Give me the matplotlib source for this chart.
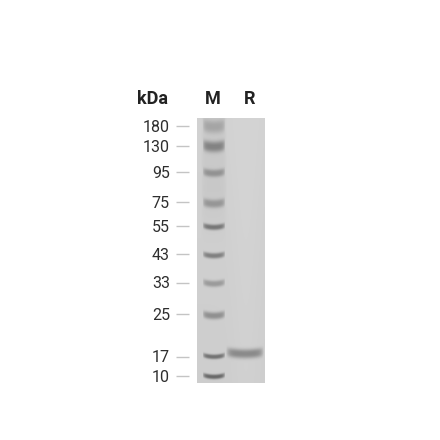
import numpy as np
import matplotlib
matplotlib.use("Agg")
import matplotlib.pyplot as plt

plt.rcParams['font.family'] = ['Roboto', 'DejaVu Sans']

# marker ladder, y read in pixels from the picture
kda_labels = ['180', '130', '95', '75', '55', '43', '33', '25', '17', '10']
label_y = [126, 146.5, 172.5, 202.5, 226, 254, 283, 314, 357, 376]
band_y = [126, 146, 172.5, 203, 226.5, 255, 283, 315, 356, 376]
band_dark = [36, 70, 54, 52, 85, 78, 52, 62, 90, 100]
band_thick = [6.5, 5.5, 3.8, 4.2, 2.8, 2.8, 3.2, 3.6, 2.4, 2.4]

# sample lane: single band
sample_y = [353]
sample_dark = [70]
sample_thick = [4.6]

lane_labels = ['M', 'R']
lane_x = [213, 250]

gel_left, gel_right = 197, 265
gel_top, gel_bottom = 118, 383


def band(xx, yy, xc, half_w, yc, dark, thick):
    # soft edged lane with a slight smile
    u = (xx - xc) / half_w
    across = np.clip((1 - u**6), 0, 1)
    centre = yc + 2.0 * (1 - u**2) - 1.2
    return dark * across * np.exp(-np.abs((yy - centre) / thick)**2.6)


xs = np.arange(gel_left, gel_right) + 0.5
ys = np.arange(gel_top, gel_bottom) + 0.5
xx, yy = np.meshgrid(xs, ys)

gel = np.full(xx.shape, 209.0)
gel -= 4 * (yy - gel_top) / (gel_bottom - gel_top)
gel += 3 * np.exp(-((xx - 246) / 14)**2)

# marker lane smear near the top
gel -= 8 * np.clip(1 - ((xx - 214) / 13)**6, 0, 1) * np.clip((250 - yy) / 60, 0, 1)
for y, d, t in zip(band_y, band_dark, band_thick):
    gel -= band(xx, yy, 214, 11.5, y, d, t)
for y, d, t in zip(sample_y, sample_dark, sample_thick):
    gel -= band(xx, yy, 245, 19, y, d, t)
gel = np.clip(gel, 70, 255)

fig = plt.figure(figsize=(4.4, 4.4), dpi=100)
ax = fig.add_axes([0, 0, 1, 1])
ax.imshow(gel, cmap='gray', vmin=0, vmax=255, aspect='auto', interpolation='bilinear',
          extent=(gel_left, gel_right, gel_bottom, gel_top))
ax.set_xlim(0, 440)
ax.set_ylim(440, 0)
ax.axis('off')

ax.hlines(label_y, 176, 189, color='#c4c4c4', lw=1)
for lab, y in zip(kda_labels, label_y):
    ax.text(170, y + 1, lab, ha='right', va='center', fontsize=11.5, color='#2e2e2e')

ax.text(153, 98.5, 'kDa', ha='center', va='center', fontsize=13, fontweight='bold', color='#222222')
for lab, x in zip(lane_labels, lane_x):
    ax.text(x, 98.5, lab, ha='center', va='center', fontsize=13, fontweight='bold', color='#222222')

fig.savefig('out.png', dpi=100)
